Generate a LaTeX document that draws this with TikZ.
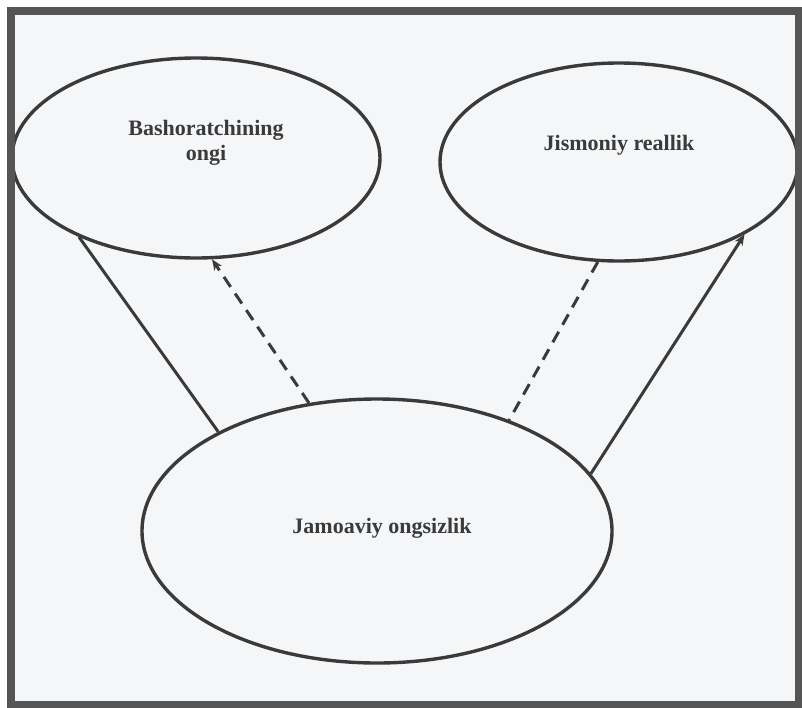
\documentclass[tikz,border=0pt]{standalone}
\usepackage{fontspec}
\setmainfont{Liberation Serif}
\usetikzlibrary{shapes.geometric,arrows.meta}
\definecolor{inkc}{HTML}{3A3A3A}
\definecolor{framec}{HTML}{555555}
\definecolor{paperc}{HTML}{F5F6F8}
\definecolor{textc}{HTML}{3A3A3A}
\tikzset{
  oval/.style={ellipse, draw=inkc, line width=3.4pt, inner sep=0pt},
  lbl/.style={font=\bfseries\fontsize{22}{25}\selectfont, text=textc, align=center, inner sep=0pt},
  conn/.style={draw=inkc, line width=3pt},
  dashconn/.style={conn, dash pattern=on 12pt off 8pt},
  tip/.style={-{Stealth[length=11pt,width=9pt]}}
}
\begin{document}
\begin{tikzpicture}[x=1pt,y=-1pt]
\useasboundingbox (0,0) rectangle (802,707);
\fill[white] (0,0) rectangle (802,707);
\fill[paperc] (11,11) rectangle (799,705);
% ellipses
\node[oval, minimum width=368pt, minimum height=200pt] (L) at (196,158) {};
\node[oval, minimum width=358pt, minimum height=198pt] (R) at (619,162) {};
\node[oval, minimum width=470pt, minimum height=264pt] (B) at (377,531) {};
% labels
\node[lbl] (Lt) at (206,143) {Bashoratchining\\ongi};
\node[lbl] (Rt) at (619,145) {Jismoniy reallik};
\node[lbl] (Bt) at (382,528) {Jamoaviy ongsizlik};
% connectors
\draw[conn] (B.148) -- (L.214);
\draw[dashconn, tip] (B.118) -- (L.279);
\draw[dashconn] (R.258) -- (B.40);
\draw[conn, tip] (B.15) -- (R.330);
% frame
\draw[framec, line width=8pt] (11,11) rectangle (799,705);
\end{tikzpicture}
\end{document}
